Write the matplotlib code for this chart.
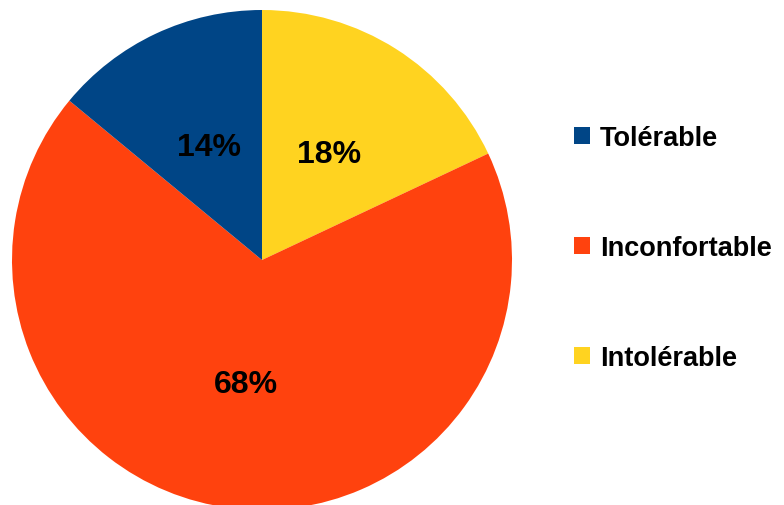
import matplotlib.pyplot as plt
from matplotlib.patches import Patch

labels = ['Tolérable', 'Inconfortable', 'Intolérable']
values = [14, 68, 18]
colors = ['#004586', '#FF420E', '#FFD320']

# slices go clockwise from 12 o'clock: Intolérable, Inconfortable, Tolérable
order = [2, 1, 0]
pie_vals = [values[i] for i in order]
pie_cols = [colors[i] for i in order]

plt.rcParams['font.family'] = ['Liberation Sans', 'DejaVu Sans']

fig = plt.figure(figsize=(7.84, 5.06), dpi=100)
ax = fig.add_axes([12 / 784, -5 / 506, 500 / 784, 500 / 506])
wedges, texts, autotexts = ax.pie(pie_vals, colors=pie_cols, startangle=90,
                                  counterclock=False, autopct='%1.0f%%',
                                  pctdistance=0.5, radius=1,
                                  wedgeprops=dict(linewidth=0))
for t in autotexts:
    t.set_fontsize(23)
    t.set_fontweight('bold')
    t.set_color('black')
ax.set_xlim(-1, 1)
ax.set_ylim(-1, 1)
ax.set_aspect('equal')
ax.axis('off')

handles = [Patch(facecolor=c, edgecolor='none') for c in colors]
fig.legend(handles, labels, loc='center left', bbox_to_anchor=(574 / 784, 1 - 249 / 506),
           frameon=False, prop={'size': 19.5, 'weight': 'bold'},
           handlelength=0.6, handleheight=0.6, handletextpad=0.35,
           labelspacing=3.1, borderpad=0, borderaxespad=0)

fig.savefig('out.png', dpi=100)
